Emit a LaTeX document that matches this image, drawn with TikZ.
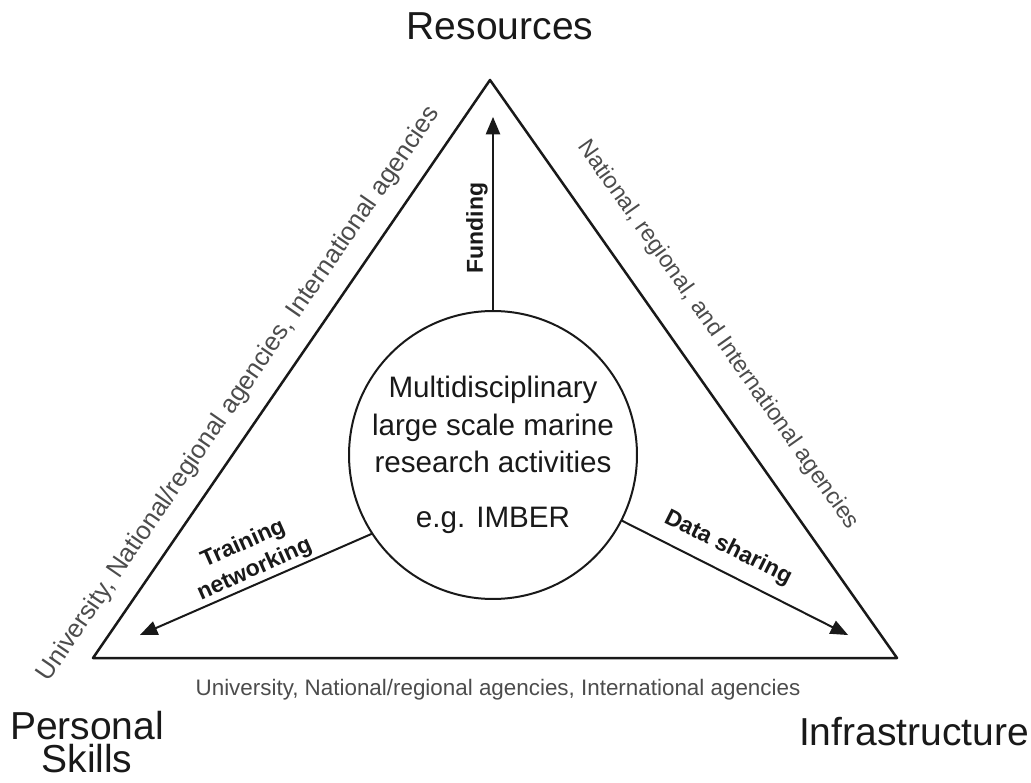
\documentclass[tikz,border=0pt]{standalone}
\usepackage{fontspec}
\setmainfont{Liberation Sans}
\usetikzlibrary{arrows}
\definecolor{qqqqqq}{rgb}{0.1,0.1,0.1}
\definecolor{sqsqsq}{rgb}{0.3,0.3,0.3}

\begin{document}
\begin{tikzpicture}[line cap=round,line join=round,>=triangle 45,x=0.5pt,y=0.5pt,
  corner/.style={font=\fontsize{19.5}{16.5}\selectfont,color=qqqqqq,align=center},
  agency/.style={font=\fontsize{11.2}{14}\selectfont,color=sqsqsq},
  flow/.style={font=\fontsize{11.5}{14}\selectfont\bfseries,color=qqqqqq,align=center}]
\useasboundingbox (0,0) rectangle (1031,782);
\coordinate (top) at (490,702);
\coordinate (left) at (93,124);
\coordinate (right) at (897,124);
\draw [line width=1.25pt,color=qqqqqq] (top) -- (right) -- (left) -- cycle;
\node (hub) [circle,draw=qqqqqq,line width=1pt,inner sep=0pt,minimum size=141pt,align=center,
  font=\fontsize{14.8}{18.75}\selectfont,text=qqqqqq] at (493,327)
  {Multidisciplinary\\large scale marine\\research activities\\[8.75pt]e.g. IMBER};
\coordinate (fundtip) at (493,665);
\coordinate (traintip) at (140,147);
\coordinate (datatip) at (848,147);
\draw [->,line width=1pt,color=qqqqqq] (hub.north) -- (fundtip);
\draw [->,line width=1pt,color=qqqqqq] (hub.213) -- (traintip);
\draw [->,line width=1pt,color=qqqqqq] (hub.333) -- (datatip);
\node (fund) [flow,rotate=90] at (477,554) {Funding};
\node (train) [flow,rotate=24] at (249,225) {Training\\networking};
\node (share) [flow,rotate=-26.5] at (728,234) {Data sharing};
% corners
\node (res) [corner,anchor=base] at (500,742) {Resources};
\node (skills) [corner] at (87,40) {Personal\\Skills};
\node (infra) [corner,anchor=base] at (914,37) {Infrastructure};
% agencies along the sides
\node (south) [agency,anchor=base] at (498,87) {University, National/regional agencies, International agencies};
\node (west) [agency,font=\fontsize{12.8}{14}\selectfont,rotate=55.5] at (239,388) {University, National/regional agencies, International agencies};
\node (east) [agency,font=\fontsize{11.7}{14}\selectfont,rotate=-54.8] at (718,447) {National, regional, and International agencies};
\end{tikzpicture}
\end{document}
